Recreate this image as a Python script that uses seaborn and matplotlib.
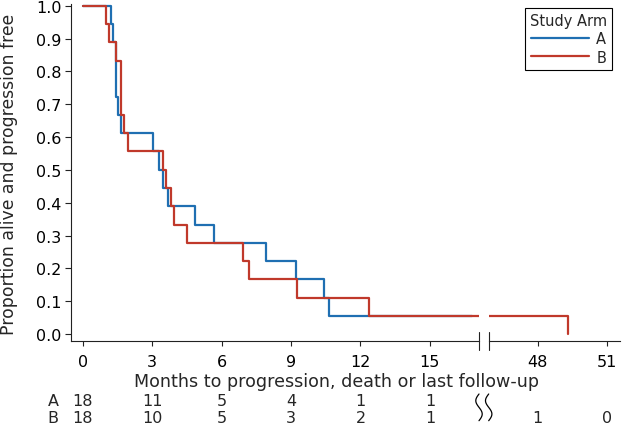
import numpy as np
import pandas as pd
import matplotlib
matplotlib.use("Agg")
import matplotlib.pyplot as plt
import matplotlib.transforms as mtransforms
from matplotlib.lines import Line2D
import seaborn as sns

# ---- data ----
arm_a_time = [0.0, 1.21, 1.32, 1.43, 1.54, 1.65, 3.05, 3.30, 3.48, 3.67, 4.84, 5.68, 7.94, 9.21, 10.42, 10.63, 16.8]
arm_a_surv = [1.0, 0.944, 0.889, 0.722, 0.667, 0.611, 0.556, 0.5, 0.444, 0.389, 0.333, 0.278, 0.222, 0.167, 0.111, 0.056, 0.056]
arm_b_time = [0.0, 0.99, 1.12, 1.44, 1.65, 1.78, 1.97, 3.48, 3.59, 3.80, 3.94, 4.49, 6.94, 7.17, 9.24, 12.37, 49.3]
arm_b_surv = [1.0, 0.944, 0.889, 0.833, 0.667, 0.611, 0.556, 0.5, 0.444, 0.389, 0.333, 0.278, 0.222, 0.167, 0.111, 0.056, 0.0]

arms = ["A", "B"]
arm_colors = ["#1f6fb2", "#c0392b"]

x_ticks_left = [0, 3, 6, 9, 12, 15]
x_ticks_right = [48, 51]
y_ticks = [0.0, 0.1, 0.2, 0.3, 0.4, 0.5, 0.6, 0.7, 0.8, 0.9, 1.0]

risk_a_left = [18, 11, 5, 4, 1, 1]
risk_b_left = [18, 10, 5, 3, 2, 1]
risk_b_right = [1, 0]

x_label = "Months to progression, death or last follow-up"
y_label = "Proportion alive and progression free"
legend_title = "Study Arm"

# ---- figure ----
sns.set_style("ticks")
plt.rcParams["font.family"] = ["DejaVu Sans"]

W, H = 624, 427
fig = plt.figure(figsize=(W / 100, H / 100), dpi=100)

def px_rect(l, r, t, b):
    return [l / W, (H - b) / H, (r - l) / W, (b - t) / H]

ax1 = fig.add_axes(px_rect(71, 479, 5, 341.7))
ax2 = fig.add_axes(px_rect(488.7, 620, 5, 341.7), sharey=ax1)

df = pd.concat([
    pd.DataFrame({"time": arm_a_time, "surv": arm_a_surv, "arm": arms[0]}),
    pd.DataFrame({"time": arm_b_time, "surv": arm_b_surv, "arm": arms[1]}),
], ignore_index=True)

pal = dict(zip(arms, arm_colors))
for ax in (ax1, ax2):
    sns.lineplot(data=df, x="time", y="surv", hue="arm", hue_order=arms,
                 palette=pal, drawstyle="steps-post", estimator=None,
                 sort=False, legend=False, linewidth=1.6, ax=ax)
    ax.set_xlabel("")
    ax.set_ylabel("")

ax1.set_xlim(-0.505, 17.12)
ax2.set_xlim(45.88, 51.57)
ax1.set_ylim(-0.0204, 1.0052)

ax1.set_xticks(x_ticks_left)
ax1.set_xticklabels([str(v) for v in x_ticks_left])
ax2.set_xticks(x_ticks_right)
ax2.set_xticklabels([str(v) for v in x_ticks_right])
ax1.set_yticks(y_ticks)
ax1.set_yticklabels([f"{v:.1f}" for v in y_ticks])

for ax in (ax1, ax2):
    ax.spines["top"].set_visible(False)
    ax.spines["right"].set_visible(False)
    for s in ("left", "bottom"):
        ax.spines[s].set_linewidth(0.8)
        ax.spines[s].set_color("#222222")
    ax.tick_params(axis="x", length=3.8, width=0.8, pad=6, labelsize=11.5,
                   color="#222222", labelcolor="black")
ax2.spines["left"].set_visible(False)
ax2.tick_params(axis="y", left=False, labelleft=False)
ax1.tick_params(axis="y", length=4.3, width=0.8, pad=2.4, labelsize=11.5,
                color="#222222", labelcolor="black")

# axis-break marks
h = 8.8 / 336.7
ax1.plot([1, 1], [-h, h], transform=ax1.transAxes, color="#222222", lw=0.8, clip_on=False)
ax2.plot([0, 0], [-h, h], transform=ax2.transAxes, color="#222222", lw=0.8, clip_on=False)

# axis labels
fig.text(336 / W, 1 - 386.7 / H, x_label, ha="center", va="baseline", fontsize=12.6)
fig.text(9.5 / W, 1 - 174 / H, y_label, ha="center", va="center", rotation=90, fontsize=12.4)

# numbers at risk
row_a_y = 1 - 406.5 / H
row_b_y = 1 - 423.0 / H
fig.text(53 / W, row_a_y, "A", ha="center", va="baseline", fontsize=11.5)
fig.text(53 / W, row_b_y, "B", ha="center", va="baseline", fontsize=11.5)
tr1 = mtransforms.blended_transform_factory(ax1.transData, fig.transFigure)
tr2 = mtransforms.blended_transform_factory(ax2.transData, fig.transFigure)
for t, a, b in zip(x_ticks_left, risk_a_left, risk_b_left):
    ax1.text(t, row_a_y, str(a), transform=tr1, ha="center", va="baseline", fontsize=11.5)
    ax1.text(t, row_b_y, str(b), transform=tr1, ha="center", va="baseline", fontsize=11.5)
for t, b in zip(x_ticks_right, risk_b_right):
    ax2.text(t, row_b_y, str(b), transform=tr2, ha="center", va="baseline", fontsize=11.5)

# wavy break symbol in the risk table
tt = np.linspace(0, 1, 60)
for cx in (479.0, 488.7):
    xs = (cx - 3.2 * np.sin(2 * np.pi * tt)) / W
    ys = 1 - (395 + 26.7 * tt) / H
    fig.add_artist(Line2D(xs, ys, transform=fig.transFigure, color="black", lw=0.9))

# legend
handles = [Line2D([], [], color=c, lw=1.6) for c in arm_colors]
leg = fig.legend(handles, arms, title=legend_title, loc="upper right",
                 bbox_to_anchor=(612 / W, 1 - 9 / H), borderaxespad=0,
                 fontsize=10.5, title_fontsize=10.5, frameon=True, fancybox=False,
                 framealpha=1, edgecolor="black", handlelength=4.0,
                 handletextpad=0.5, labelspacing=0.22, borderpad=0.35)
leg.get_frame().set_linewidth(0.8)

fig.savefig("out.png", dpi=100)
